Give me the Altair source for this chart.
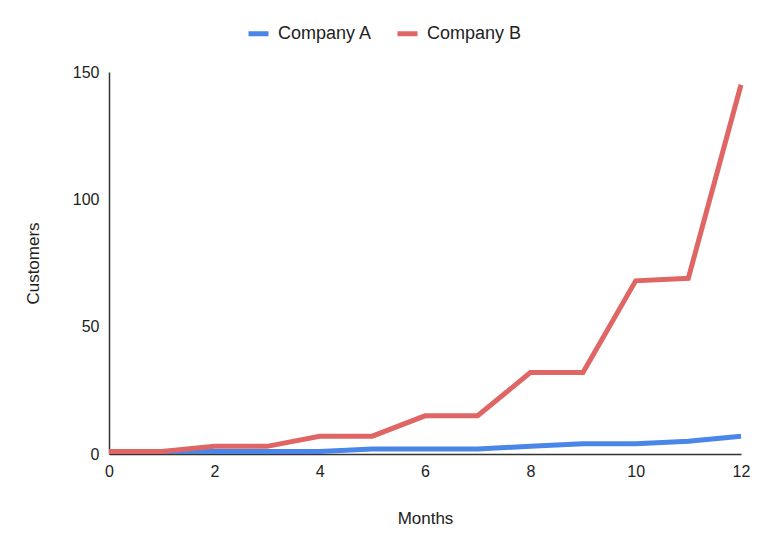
import altair as alt
import pandas as pd

months = list(range(13))
company_a = [1, 1, 1, 1, 1, 2, 2, 2, 3, 4, 4, 5, 7]
company_b = [1, 1, 3, 3, 7, 7, 15, 15, 32, 32, 68, 69, 145]
series_names = ["Company A", "Company B"]
series_colors = ["#4a86e8", "#e06666"]

df = pd.concat([
    pd.DataFrame({"Months": months, "Customers": company_a, "Series": series_names[0]}),
    pd.DataFrame({"Months": months, "Customers": company_b, "Series": series_names[1]}),
])

FONT = "Liberation Sans"

chart = alt.Chart(df).mark_line(strokeWidth=5, strokeJoin="miter").encode(
    x=alt.X("Months:Q",
            scale=alt.Scale(domain=[0, 12], nice=False, zero=False),
            axis=alt.Axis(values=[0, 2, 4, 6, 8, 10, 12], grid=False, ticks=False,
                          domainColor="#333333", domainWidth=1.5,
                          labelFont=FONT, labelFontSize=16, labelColor="#222222",
                          labelPadding=9, labelFlush=False,
                          title="Months", titleFont=FONT, titleFontSize=17,
                          titleFontWeight="normal", titleColor="#222222",
                          titleY=64, titleBaseline="middle")),
    y=alt.Y("Customers:Q",
            scale=alt.Scale(domain=[0, 150], nice=False),
            axis=alt.Axis(values=[0, 50, 100, 150], grid=False, ticks=False,
                          domainColor="#333333", domainWidth=1.5,
                          labelFont=FONT, labelFontSize=16, labelColor="#222222",
                          labelPadding=10, labelFlush=False,
                          title="Customers", titleFont=FONT, titleFontSize=17,
                          titleFontWeight="normal", titleColor="#222222",
                          titleX=-76, titleY=191, titleAngle=-90,
                          titleBaseline="middle", titleAlign="center")),
    color=alt.Color("Series:N",
                    scale=alt.Scale(domain=series_names, range=series_colors),
                    legend=alt.Legend(title=None, orient="none", direction="horizontal",
                                      legendX=137, legendY=-51,
                                      symbolType="stroke", symbolSize=400,
                                      symbolStrokeWidth=5,
                                      labelFont=FONT, labelFontSize=18,
                                      labelColor="#222222", labelOffset=7,
                                      columnPadding=14)),
).properties(
    width=632, height=382,
    padding={"left": 101, "top": 64, "right": 19, "bottom": 90},
    autosize=alt.AutoSizeParams(type="none"),
).configure_view(stroke=None)

chart.save("out.html", embed_options={"renderer": "svg", "actions": False})
